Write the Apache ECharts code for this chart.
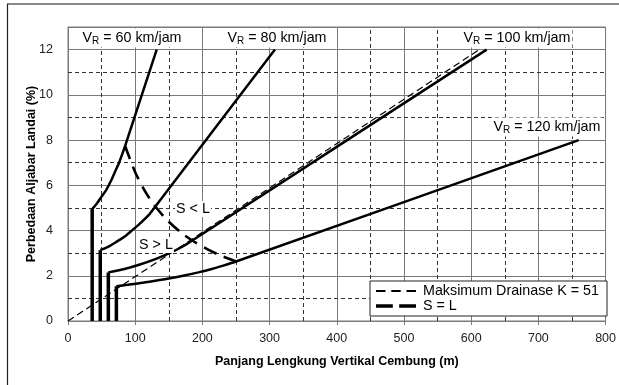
<!DOCTYPE html>
<html>
<head>
<meta charset="utf-8">
<script src="https://cdn.jsdelivr.net/npm/echarts@6/dist/echarts.min.js"></script>
<style>
    html, body { margin: 0; padding: 0; background: #fff; }
    #chart { width: 619px; height: 385px; }
</style>
</head>
<body>
<div id="chart"></div>
<script>
// titik-titik: [panjang L (m), perbedaan aljabar A (%)]
const v60 = [[36, 4.95], [43, 5.2], [50, 5.5], [57, 5.8], [64, 6.2], [70, 6.6], [76, 7.0], [81, 7.4], [85, 7.74], [132, 12]];
const v80 = [[48, 3.13], [61, 3.3], [72, 3.5], [85, 3.75], [95, 4], [105, 4.25], [114, 4.5], [122, 4.75], [130, 5.06], [308, 12]];
const v100 = [[60, 2.15], [84, 2.3], [107, 2.5], [131, 2.75], [151, 3.0], [168, 3.25], [185, 3.56], [623, 12]];
const v120 = [[72, 1.54], [89, 1.6], [113, 1.7], [134, 1.8], [154, 1.9], [171, 2.0], [194, 2.15], [214, 2.3], [231, 2.45], [250, 2.63], [760, 8]];
// garis S = L
const sEqualL = [[85, 7.74], [100, 6.58], [115, 5.72], [130, 5.06], [150, 4.39], [170, 3.87], [185, 3.56], [210, 3.13], [230, 2.86], [250, 2.63]];
// maksimum drainase K = 51
const drainase = [[0, 0], [612, 12]];
// batas bawah panjang lengkung (garis tegak)
const minLen = [36, 48, 60, 72];
const minTop = [4.95, 3.13, 2.15, 1.54];

const xTicks = [0, 100, 200, 300, 400, 500, 600, 700, 800];
const yTicks = [0, 2, 4, 6, 8, 10, 12];
// garis bantu putus-putus
const dashX = [50, 150, 250, 350, 450, 550, 650, 750];
const dashY = [1, 3, 5, 7, 9, 11];

const FONT = 'Liberation Sans, Arial, sans-serif';
const FS = 14.3;

const myEcharts = echarts.init(document.getElementById('chart'));

function curve(name, data) {
    return {
        name: name,
        type: 'line',
        data: data,
        symbol: 'none',
        smooth: 0.2,
        lineStyle: { color: '#000', width: 2.5 },
        silent: true,
        z: 5
    };
}

const verticals = minLen.map((L, i) => ({
    name: 'min' + i,
    type: 'line',
    data: [[L, 0], [L, minTop[i]]],
    symbol: 'none',
    lineStyle: { color: '#000', width: 3.5 },
    silent: true,
    z: 5
}));

function vrLabel(speed, x, y) {
    return {
        type: 'text',
        x: x,
        y: y,
        z: 20,
        style: {
            text: '{a|V}{b|R}{a| = ' + speed + ' km/jam}',
            align: 'center',
            verticalAlign: 'middle',
            backgroundColor: '#fff',
            padding: [1, 2, 1, 2],
            rich: {
                a: { fontSize: FS, fontFamily: FONT, fill: '#000' },
                b: { fontSize: 10, fontFamily: FONT, fill: '#000', padding: [7, 0, 0, 0] }
            }
        }
    };
}

function plainLabel(text, x, y) {
    return {
        type: 'text',
        x: x,
        y: y,
        z: 20,
        style: {
            text: text,
            align: 'center',
            verticalAlign: 'middle',
            backgroundColor: '#fff',
            padding: [1, 1, 1, 1],
            font: FS + 'px ' + FONT,
            fill: '#000'
        }
    };
}

const solidGrid = { show: true, lineStyle: { color: '#7a7a7a', width: 1, type: 'solid' } };

const option = {
    animation: false,
    grid: {
        left: 68,
        right: 13,
        top: 27,
        bottom: 64,
        show: true,
        borderColor: '#7a7a7a',
        borderWidth: 1
    },
    legend: {
        orient: 'vertical',
        right: 12,
        top: 281,
        data: [
            { name: 'Maksimum Drainase K = 51', icon: 'path://M0,0h9v1.8h-9z M14.5,0h9v1.8h-9z M29,0h9v1.8h-9z' },
            { name: 'S = L', icon: 'path://M0,0h16v3.2h-16z M22,0h16v3.2h-16z' }
        ],
        symbolKeepAspect: true,
        backgroundColor: '#fff',
        borderColor: '#222',
        borderWidth: 1,
        borderRadius: 0,
        padding: [3, 8, 3, 6],
        itemGap: 1,
        itemWidth: 40,
        itemHeight: 14,
        z: 30,
        itemStyle: { color: '#000' },
        textStyle: { fontSize: FS, color: '#000', fontFamily: FONT, padding: [0, 0, 0, 2] }
    },
    xAxis: {
        type: 'value',
        min: 0,
        max: 800,
        interval: 100,
        name: 'Panjang Lengkung Vertikal Cembung (m)',
        nameLocation: 'middle',
        nameGap: 34,
        nameMoveOverlap: false,
        nameTextStyle: { fontSize: 12.5, fontWeight: 'bold', color: '#000', fontFamily: FONT },
        axisLine: { show: true, lineStyle: { color: '#7a7a7a' } },
        axisTick: { show: true, length: 4, lineStyle: { color: '#7a7a7a' } },
        axisLabel: {
            margin: 11, fontSize: 12.5, color: '#222', fontFamily: FONT,
            formatter: v => (xTicks.indexOf(v) >= 0 ? String(v) : '')
        },
        splitLine: solidGrid
    },
    yAxis: {
        type: 'value',
        min: 0,
        max: 13,
        interval: 2,
        name: 'Perbedaan Aljabar Landai (%)',
        nameLocation: 'middle',
        nameGap: 30,
        nameMoveOverlap: false,
        nameTextStyle: { fontSize: 12.5, fontWeight: 'bold', color: '#000', fontFamily: FONT },
        axisLine: { show: true, lineStyle: { color: '#7a7a7a' } },
        axisTick: { show: false },
        axisLabel: {
            margin: 15, fontSize: 12.5, color: '#222', fontFamily: FONT,
            formatter: v => (yTicks.indexOf(v) >= 0 ? String(v) : '')
        },
        splitLine: solidGrid
    },
    graphic: [
        { type: 'line', shape: { x1: 7, y1: 4, x2: 619, y2: 4 }, style: { stroke: '#8a8a8a', lineWidth: 2 } },
        { type: 'line', shape: { x1: 7.5, y1: 4, x2: 7.5, y2: 385 }, style: { stroke: '#222', lineWidth: 1.2 } },
        vrLabel(60, 132, 38),
        vrLabel(80, 277, 38),
        vrLabel(100, 517, 38),
        vrLabel(120, 547, 127),
        plainLabel('S < L', 193, 209),
        plainLabel('S > L', 156, 245)
    ],
    series: [
        {
            name: 'grid-dash',
            type: 'line',
            data: [],
            symbol: 'none',
            silent: true,
            z: 1,
            markLine: {
                silent: true,
                symbol: 'none',
                label: { show: false },
                lineStyle: { color: '#333', width: 1, type: [4, 3] },
                data: dashX.map(v => ({ xAxis: v })).concat(dashY.map(v => ({ yAxis: v })))
            }
        },
        {
            name: 'Maksimum Drainase K = 51',
            type: 'line',
            data: drainase,
            symbol: 'none',
            itemStyle: { color: '#000' },
            lineStyle: { color: '#000', width: 1.2, type: [7, 4] },
            silent: true,
            z: 4
        },
        curve('v60', v60),
        curve('v80', v80),
        curve('v100', v100),
        curve('v120', v120),
        ...verticals,
        {
            name: 'S = L',
            type: 'line',
            data: sEqualL,
            symbol: 'none',
            smooth: 0.3,
            itemStyle: { color: '#000' },
            lineStyle: { color: '#000', width: 2.6, type: [14, 8] },
            silent: true,
            z: 6
        }
    ]
};

myEcharts.setOption(option);
</script>
</body>
</html>
